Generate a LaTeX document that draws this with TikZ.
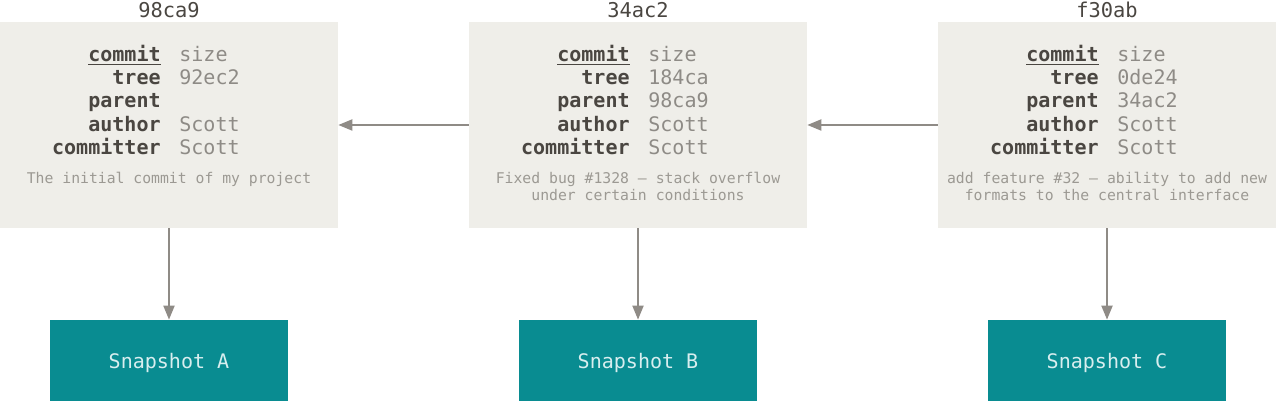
\documentclass[tikz,border=0pt]{standalone}
\usepackage{fontspec}
\setmonofont{DejaVu Sans Mono}
\usetikzlibrary{arrows.meta}

\definecolor{boxfill}{HTML}{EFEEE9}
\definecolor{snapfill}{HTML}{098C91}
\definecolor{snaptext}{HTML}{D8EEEF}
\definecolor{keycol}{HTML}{4A4641}
\definecolor{valcol}{HTML}{8E8B86}
\definecolor{msgcol}{HTML}{9C9993}
\definecolor{linkcol}{HTML}{8F8B86}

\begin{document}
\begin{tikzpicture}[x=0.02cm, y=-0.02cm,
	commitbox/.style={fill=boxfill, minimum width=6.76cm, minimum height=4.12cm, inner sep=0pt},
	snapbox/.style={fill=snapfill, text=snaptext, minimum width=4.76cm, minimum height=1.62cm,
		text depth=0pt, font=\ttfamily\fontsize{11.4}{13}\selectfont},
	hashtext/.style={anchor=base, inner sep=0pt, text=keycol, font=\ttfamily\fontsize{11.6}{13}\selectfont},
	keytext/.style={anchor=base east, inner sep=0pt, text=keycol, font=\ttfamily\bfseries\fontsize{11.4}{13}\selectfont},
	valtext/.style={anchor=base west, inner sep=0pt, text=valcol, font=\ttfamily\fontsize{11.4}{13}\selectfont},
	msgtext/.style={anchor=north, inner sep=0pt, align=center, text=msgcol, font=\ttfamily\fontsize{8.4}{9.8}\selectfont},
	link/.style={draw=linkcol, line width=1.1pt, -{Triangle[length=2.8mm,width=2.2mm]}}]

% frame %{{{2

	\useasboundingbox (0,0) rectangle (1280,404);

% commits and snapshots %{{{2

	\foreach \i/\cx/\hash/\tree/\parent/\msg/\snap in {
		1/169/98ca9/92ec2/{}/{The initial commit of my project}/A,
		2/638/34ac2/184ca/98ca9/{Fixed bug \#1328 – stack overflow\\under certain conditions}/B,
		3/1107/f30ab/0de24/34ac2/{add feature \#32 – ability to add new\\formats to the central interface}/C} {

		\node[commitbox] (C\i) at (\cx,125) {};
		\node[hashtext] (H\i) at (\cx,18) {\hash};

		\foreach \key/\val [count=\r from 0] in {{\underline{commit}}/size, tree/\tree, parent/\parent, author/Scott, committer/Scott} {
			\node[keytext] (K\i\r) at (\cx-8,{61.5+23.2*\r}) {\key};
			\node[valtext] (V\i\r) at (\cx+10,{61.5+23.2*\r}) {\val};
		}

		\node[msgtext] (M\i) at (\cx,172) {\msg};

		\node[snapbox] (S\i) at (\cx,360.5) {Snapshot \snap};
	}

% links %{{{2

	\draw[link] (C2.west) -- (C1.east);
	\draw[link] (C3.west) -- (C2.east);

	\foreach \i in {1,2,3} { \draw[link] (C\i) -- (S\i); }

% closing %{{{2

\end{tikzpicture}
\end{document}
